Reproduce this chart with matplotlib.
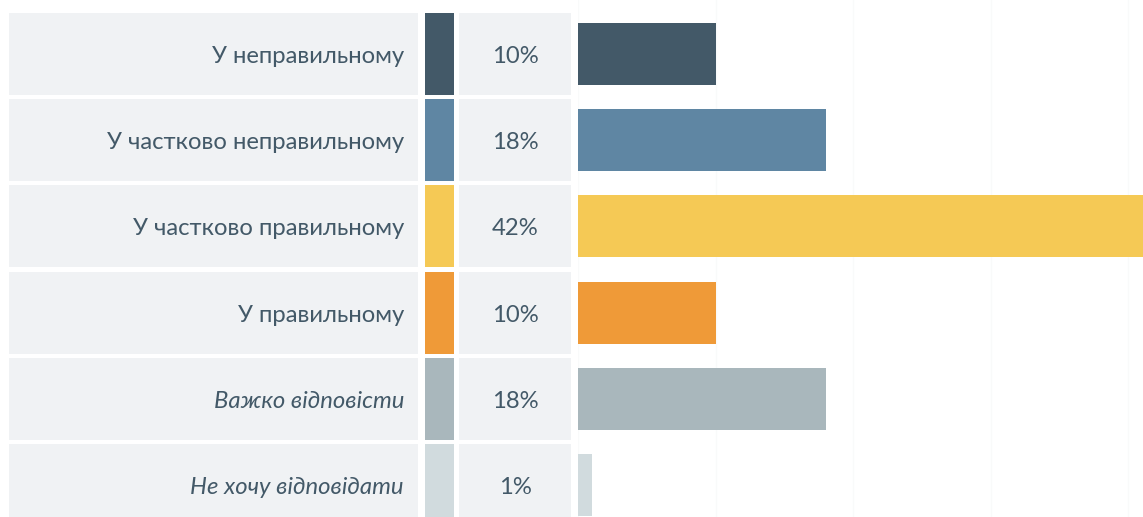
import matplotlib.pyplot as plt
from matplotlib.patches import Rectangle

labels = ['У неправильному', 'У частково неправильному', 'У частково правильному',
          'У правильному', 'Важко відповісти', 'Не хочу відповідати']
values = [10, 18, 42, 10, 18, 1]
colors = ['#435968', '#5f86a3', '#f5c955', '#ef9a38', '#a9b7bc', '#d1dbde']
italic = [False, False, False, False, True, True]

W, H = 1143, 517
row_px = 86.2      # row pitch in pixels
first_px = 54      # centre of first row from top
px_per_pct = 13.75
bar_left = 578

plt.rcParams['font.family'] = ['Lato', 'DejaVu Sans']
text_col = '#435968'
cell_bg = '#f0f2f4'

fig = plt.figure(figsize=(W / 100, H / 100), dpi=100)
ylim = ((H - first_px) / row_px, -first_px / row_px)

# table part (label cell, swatch, value cell)
tab = fig.add_axes([0, 0, bar_left / W, 1])
tab.set_xlim(0, bar_left)
tab.set_ylim(*ylim)
tab.axis('off')

cell_h = 82 / row_px
fs = 17.2
for i, (lab, v, c, it) in enumerate(zip(labels, values, colors, italic)):
    y0 = i - cell_h / 2
    tab.add_patch(Rectangle((9, y0), 409, cell_h, color=cell_bg, lw=0))
    tab.add_patch(Rectangle((425, y0), 29, cell_h, color=c, lw=0))
    tab.add_patch(Rectangle((459, y0), 112, cell_h, color=cell_bg, lw=0))
    tab.text(404, i + 0.03, lab, ha='right', va='center', fontsize=fs, color=text_col,
             style='italic' if it else 'normal')
    tab.text(515, i + 0.03, f'{v}%', ha='center', va='center', fontsize=fs, color=text_col)

# bars
ax = fig.add_axes([bar_left / W, 0, (W - bar_left) / W, 1])
ax.set_xlim(0, (W - bar_left) / px_per_pct)
ax.set_ylim(*ylim)
for x in range(0, 50, 10):
    ax.axvline(x, color='#f9fafa', lw=1, zorder=0)
ax.barh(range(len(values)), values, height=62 / row_px, color=colors, zorder=2)
ax.axis('off')

fig.savefig('out.png', dpi=100)
